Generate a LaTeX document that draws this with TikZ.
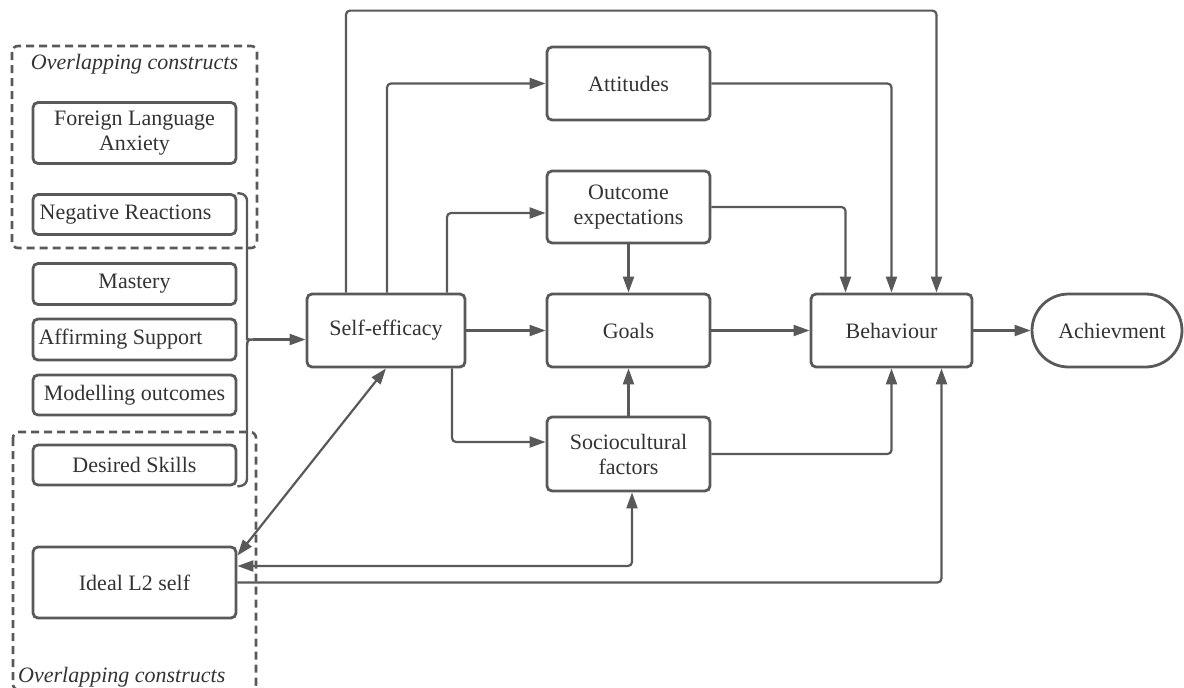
\documentclass[tikz,border=0pt]{standalone}
\usepackage{fontspec}
\setmainfont{Liberation Serif}
\usetikzlibrary{arrows.meta,shapes.misc,calc}
\definecolor{ln}{HTML}{595959}
\definecolor{tx}{HTML}{333333}
\begin{document}
\begin{tikzpicture}[x=1pt,y=-1pt,
  box/.style={draw=ln, line width=2.8pt, rounded corners=5pt, fill=white, text=tx,
    font=\fontsize{22}{25}\selectfont, align=center, inner sep=0pt},
  leftbox/.style={box, minimum width=203pt},
  midbox/.style={box, minimum width=163pt, minimum height=73pt},
  arr/.style={draw=ln, line width=2.2pt, -{Triangle[length=16pt,width=11pt]}, rounded corners=4pt},
  darr/.style={arr, {Triangle[length=16pt,width=11pt]}-{Triangle[length=16pt,width=11pt]}},
  grp/.style={draw=ln, line width=2.6pt, dash pattern=on 8pt off 5pt, rounded corners=6pt},
  grplabel/.style={text=tx, font=\fontsize{22}{25}\selectfont\itshape, inner sep=0pt},
  bracestyle/.style={draw=ln, line width=2.4pt},
]
\useasboundingbox (0,0) rectangle (1184,688);

% group frames
\draw[grp] (12,46) rectangle (257,248);
\draw[grp] (13,432) rectangle (256,690);
\node[grplabel] (g1) at (134.5,64) {Overlapping constructs};
\node[grplabel, anchor=west] (g2) at (18,677) {Overlapping constructs};

% left column
\node[leftbox, minimum height=61pt] (fla) at (134.5,133) {Foreign Language\\Anxiety};
\node[leftbox, minimum height=40pt] (nr) at (134.5,214.5) {Negative Reactions\hspace*{18pt}};
\node[leftbox, minimum height=41pt] (mas) at (134.5,284) {Mastery};
\node[leftbox, minimum height=41pt] (aff) at (134.5,339.5) {Affirming Support\hspace*{28pt}};
\node[leftbox, minimum height=40pt] (mod) at (134.5,395) {Modelling outcomes};
\node[leftbox, minimum height=40pt] (ds) at (134.5,465) {Desired Skills};
\node[leftbox, minimum height=71pt] (ideal) at (134.5,582.5) {Ideal L2 self};

% main boxes
\node[box, minimum width=158pt, minimum height=73pt] (se) at (386,330.5) {Self-efficacy};
\node[midbox] (att) at (628.5,83.5) {Attitudes};
\node[midbox, minimum height=72pt] (oe) at (628.5,207) {Outcome\\expectations};
\node[midbox] (goals) at (628.5,330.5) {Goals};
\node[midbox, minimum height=74pt] (soc) at (628.5,454) {Sociocultural\\factors};
\node[box, minimum width=161pt, minimum height=73pt] (beh) at (891.5,330.5) {Behaviour};
\node[box, sharp corners, rounded rectangle, minimum width=150pt, minimum height=73pt] (ach) at (1107,330.5) {\hspace*{10pt}Achievment};

% brace
\coordinate (bt) at (253,339.5);
\draw[bracestyle] (nr.north east) [rounded corners=6pt] -- (247,194.5) -- (247,333)
  [sharp corners] .. controls (247,339.5) and (249,339.5) .. (bt)
  .. controls (249,339.5) and (247,339.5) .. (247,346)
  [rounded corners=6pt] -- (247,485) -- (ds.south east);
\draw[arr] (bt) -- (se.west |- bt);

% connectors
\draw[arr] ([xshift=-40pt]se.north) -- ++(0,-282) -| ([xshift=45pt]beh.north);
\draw[arr] ([xshift=1pt]se.north) |- (att.west);
\draw[arr] ([xshift=61pt]se.north) |- ([yshift=-6pt]oe.west);
\draw[arr] (att.east) -| (beh.north);
\draw[arr] (oe.east) -| ([xshift=-46pt]beh.north);
\draw[arr] (oe.south) -- (goals.north);
\draw[arr] (se.east) -- (goals.west);
\draw[arr] (goals.east) -- (beh.west);
\draw[arr] (beh.east) -- (ach.west);
\draw[arr] ([xshift=66pt]se.south) |- ([yshift=12pt]soc.west);
\draw[arr] (soc.north) -- (goals.south);
\draw[arr] (soc.east) -| (beh.south);
\draw[darr] (se.south) -- ([yshift=-10pt]ideal.north east);
\draw[darr] ([xshift=3.5pt]soc.south) |- ([yshift=16.5pt]ideal.east);
\draw[arr] (ideal.east) -| ([xshift=50pt]beh.south);
\end{tikzpicture}
\end{document}
